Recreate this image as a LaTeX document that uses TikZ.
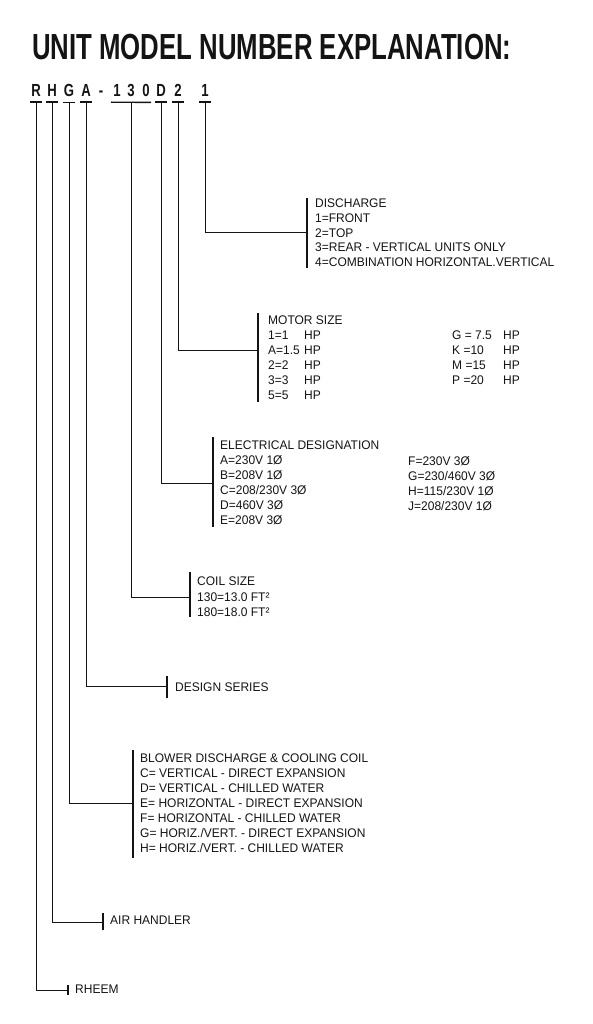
\documentclass[tikz,border=0pt]{standalone}
\usepackage{fontspec}
\setmainfont{Liberation Sans}
\newfontfamily\titlefont{Liberation Sans Bold}[FakeStretch=0.71]
\newfontfamily\codefont{Liberation Sans Bold}[FakeStretch=0.75]
\newfontfamily\listfont{Liberation Sans}[FakeStretch=0.96]
\usetikzlibrary{positioning}
\definecolor{InkBlack}{HTML}{141414}

\begin{document}
\begin{tikzpicture}[
    x=1pt, y=-1pt,
    code/.style={
      font=\codefont\fontsize{17.5}{17.5}\selectfont,
      anchor=base,
      inner sep=0pt,
      text=InkBlack
    },
    blk/.style={
      font=\listfont\fontsize{12.5}{#1}\selectfont,
      align=left,
      anchor=north west,
      inner sep=0pt,
      text=InkBlack
    },
    blk/.default=15,
    stem/.style={line width=1pt, color=InkBlack},
    bar/.style={line width=1.4pt, color=InkBlack},
    uline/.style={line width=1.4pt, color=InkBlack}
  ]
  \useasboundingbox (0,0) rectangle (592,1024);

  % Heading
  \node[font=\titlefont\fontsize{36.3}{40}\selectfont, anchor=base west,
        inner sep=0pt, text=InkBlack] (title) at (32,60)
    {UNIT MODEL NUMBER EXPLANATION:};

  % Model number characters
  \node[code] (R)    at (36,97)  {R};
  \node[code] (H)    at (52,97)  {H};
  \node[code] (G)    at (69,97)  {G};
  \node[code] (A)    at (86,97)  {A};
  \node[code] (dash) at (101,97) {-};
  \node[code] (c1)   at (117,97) {1};
  \node[code] (c3)   at (131,97) {3};
  \node[code] (c0)   at (146,97) {0};
  \node[code] (D)    at (161,97) {D};
  \node[code] (n2)   at (178,97) {2};
  \node[code] (n1)   at (205,97) {1};

  \foreach \k in {R,H,G,A,D,n2,n1}
    \draw[uline] ([xshift=-6pt,yshift=-5pt]\k.south) -- ([xshift=6pt,yshift=-5pt]\k.south);
  \draw[uline] ([xshift=-6pt,yshift=-5pt]c1.south) -- ([xshift=5pt,yshift=-5pt]c0.south);

  % Ends of the leaders
  \coordinate (disc) at (307,233);
  \coordinate (motr) at (258,350);
  \coordinate (elec) at (213,483);
  \coordinate (coil) at (190,597);
  \coordinate (desg) at (167,686);
  \coordinate (blow) at (133,803);
  \coordinate (airh) at (103,922);
  \coordinate (rhem) at (68,990);

  % Leaders
  \draw[stem] ([yshift=-5pt]n1.south) |- (disc);
  \draw[stem] ([yshift=-5pt]n2.south) |- (motr);
  \draw[stem] ([yshift=-5pt]D.south)  |- (elec);
  \draw[stem] ([yshift=-5pt]c3.south) |- (coil);
  \draw[stem] ([yshift=-5pt]A.south)  |- (desg);
  \draw[stem] ([yshift=-5pt]G.south)  |- (blow);
  \draw[stem] ([yshift=-5pt]H.south)  |- (airh);
  \draw[stem] ([yshift=-5pt]R.south)  |- (rhem);

  % Brackets
  \draw[bar] (307,198) -- (307,268);
  \draw[bar] (258,313) -- (258,402);
  \draw[bar] (213,437) -- (213,527);
  \draw[bar] (190,572) -- (190,617);
  \draw[bar] (167,676) -- (167,698);
  \draw[bar] (133,750) -- (133,858);
  \draw[bar] (103,913) -- (103,930);
  \draw[bar] (68,985)  -- (68,995);

  % Code lists
  \node[blk=14.6] (discharge) at (315,199)
    {DISCHARGE\\1=FRONT\\2=TOP\\3=REAR - VERTICAL UNITS ONLY\\4=COMBINATION HORIZONTAL.VERTICAL};

  \node[blk] (motor) at (268,316)
    {MOTOR SIZE\\\makebox[36pt][l]{1=1}HP\\\makebox[36pt][l]{A=1.5}HP\\
     \makebox[36pt][l]{2=2}HP\\\makebox[36pt][l]{3=3}HP\\\makebox[36pt][l]{5=5}HP};
  \node[blk] (motor2) at (452,331)
    {\makebox[51pt][l]{G = 7.5}HP\\\makebox[51pt][l]{K =10}HP\\
     \makebox[51pt][l]{M =15}HP\\\makebox[51pt][l]{P =20}HP};

  \node[blk] (electric) at (220,441)
    {ELECTRICAL DESIGNATION\\A=230V 1Ø\\B=208V 1Ø\\C=208/230V 3Ø\\D=460V 3Ø\\E=208V 3Ø};
  \node[blk] (electric2) at (408,456)
    {F=230V 3Ø\\G=230/460V 3Ø\\H=115/230V 1Ø\\J=208/230V 1Ø};

  \node[blk=15.5] (coilsize) at (197,577)
    {COIL SIZE\\130=13.0 FT²\\180=18.0 FT²};

  \node[blk] (design) at (175,683) {DESIGN SERIES};

  \node[blk] (blower) at (140,754)
    {BLOWER DISCHARGE \& COOLING COIL\\C= VERTICAL - DIRECT EXPANSION\\
     D= VERTICAL - CHILLED WATER\\E= HORIZONTAL - DIRECT EXPANSION\\
     F= HORIZONTAL - CHILLED WATER\\G= HORIZ./VERT. - DIRECT EXPANSION\\
     H= HORIZ./VERT. - CHILLED WATER};

  \node[blk] (handler) at (110,916) {AIR HANDLER};
  \node[blk] (brand) at (75,985) {RHEEM};

\end{tikzpicture}
\end{document}
